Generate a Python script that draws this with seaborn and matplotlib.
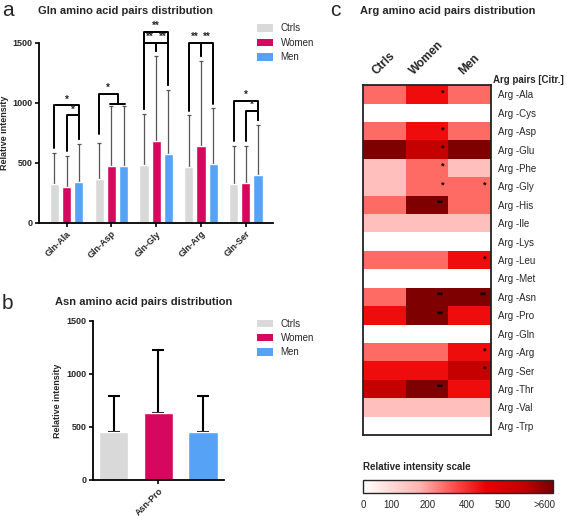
import numpy as np
import pandas as pd
import seaborn as sns
import matplotlib.pyplot as plt
from matplotlib.colors import ListedColormap, BoundaryNorm, LinearSegmentedColormap, Normalize
from matplotlib.cm import ScalarMappable
from matplotlib.patches import Patch

sns.set_theme(style="ticks")
plt.rcParams['font.family'] = ['Liberation Sans', 'DejaVu Sans']

# ---- data ----
groups = ["Ctrls", "Women", "Men"]
group_colors = ["#d9d9d9", "#d6075f", "#55a2f7"]

gln_pairs = ["Gln-Ala", "Gln-Asp", "Gln-Gly", "Gln-Arg", "Gln-Ser"]
gln_ctrls = [320, 362, 486, 468, 328]
gln_women = [300, 478, 680, 644, 333]
gln_men = [343, 478, 575, 492, 400]
gln_ctrls_sd = [265, 305, 422, 427, 311]
gln_women_sd = [257, 497, 710, 703, 311]
gln_men_sd = [316, 497, 530, 461, 414]

# (pair, bar a, bar b, height, label)
gln_sig = [(0, 0, 2, 978, "*"), (0, 1, 2, 897, "*"),
           (2, 0, 1, 1500, "**"), (2, 1, 2, 1500, "**"), (2, 0, 2, 1592, "**"),
           (3, 0, 1, 1500, "**"), (3, 1, 2, 1500, "**"),
           (4, 0, 2, 1019, "*"), (4, 1, 2, 936, "*")]

asn_pairs = ["Asn-Pro"]
asn_means = [456, 629, 450]
asn_sd = [336, 597, 342]

arg_pairs = ["Arg -Ala", "Arg -Cys", "Arg -Asp", "Arg -Glu", "Arg -Phe", "Arg -Gly",
             "Arg -His", "Arg -Ile", "Arg -Lys", "Arg -Leu", "Arg -Met", "Arg -Asn",
             "Arg -Pro", "Arg -Gln", "Arg -Arg", "Arg -Ser", "Arg -Thr", "Arg -Val",
             "Arg -Trp"]
arg_ctrls = [300, 50, 300, 650, 150, 150, 300, 150, 50, 300, 50, 300, 450, 50, 300, 450, 550, 150, 50]
arg_women = [450, 50, 450, 550, 300, 300, 650, 150, 50, 300, 50, 650, 650, 50, 300, 450, 650, 150, 50]
arg_men = [300, 50, 300, 650, 150, 300, 300, 150, 50, 450, 50, 650, 450, 50, 450, 550, 450, 150, 50]
arg_ctrls_sig = [""] * 19
arg_women_sig = ["*", "", "*", "*", "*", "*", "**", "", "", "", "", "**", "**", "", "", "", "**", "", ""]
arg_men_sig = ["", "", "", "", "", "*", "", "", "", "*", "", "**", "", "", "*", "*", "", "", ""]

level_bounds = [0, 100, 200, 400, 500, 600, 700]
level_colors = ["#ffffff", "#ffc0bd", "#fd6b64", "#ee0c0c", "#c50000", "#7f0000"]
scale_labels = ["0", "100", "200", "400", "500", ">600"]
scale_pos = [0.003, 0.152, 0.339, 0.545, 0.738, 0.956]

fig = plt.figure(figsize=(5.67, 5.16), dpi=100)


def style_bar_axes(ax):
    sns.despine(ax=ax)
    for s in ["left", "bottom"]:
        ax.spines[s].set_linewidth(1.3)
        ax.spines[s].set_color("black")
    ax.set_ylim(0, 1500)
    ax.set_yticks([0, 500, 1000, 1500])
    ax.tick_params(axis="both", labelsize=6.5, width=1.2, length=3, color="black", pad=1.5)
    for lab in ax.get_yticklabels() + ax.get_xticklabels():
        lab.set_fontweight("bold")
    ax.set_xlabel("")
    ax.set_ylabel("Relative intensity", fontsize=6.5, fontweight="bold", labelpad=3)


def add_errors(ax, sds, color, lw, capsize):
    xs = []
    for cont, sd in zip(ax.containers, sds):
        cx = [b.get_x() + b.get_width() / 2 for b in cont]
        hy = [b.get_height() for b in cont]
        ax.errorbar(cx, hy, yerr=[np.zeros(len(sd)), sd], fmt="none", ecolor=color,
                    elinewidth=lw, capsize=capsize, capthick=lw, zorder=1)
        xs.append(cx)
    return xs


# ---- panel a ----
axa = fig.add_axes([0.069, 0.568, 0.413, 0.349])
dfa = pd.DataFrame({
    "pair": gln_pairs * 3,
    "group": np.repeat(groups, len(gln_pairs)),
    "value": gln_ctrls + gln_women + gln_men,
})
sns.barplot(data=dfa, x="pair", y="value", hue="group", hue_order=groups, palette=group_colors,
            saturation=1, width=0.82, gap=0.25, errorbar=None, legend=False, ax=axa, zorder=2)
xa = add_errors(axa, [gln_ctrls_sd, gln_women_sd, gln_men_sd], "#555555", 0.9, 1.5)
tops = np.array([gln_ctrls, gln_women, gln_men]) + np.array([gln_ctrls_sd, gln_women_sd, gln_men_sd])

# significance brackets
for g, i, j, h, lab in gln_sig:
    x1, x2 = xa[i][g], xa[j][g]
    axa.plot([x1, x1, x2, x2], [tops[i][g] + 40, h, h, tops[j][g] + 40],
             color="black", lw=1.4, clip_on=False, zorder=3)
    axa.text((x1 + x2) / 2, h + 5, lab, ha="center", va="bottom", fontsize=7, fontweight="bold")
# Gln-Asp: Ctrls vs (Women + Men)
mid = (xa[1][1] + xa[2][1]) / 2
axa.plot([xa[0][1], xa[0][1], mid, mid], [tops[0][1] + 70, 1075, 1075, 992],
         color="black", lw=1.4, clip_on=False, zorder=3)
axa.plot([xa[1][1] - 0.04, xa[2][1] + 0.04], [992, 992], color="black", lw=1.4, clip_on=False, zorder=3)
axa.text((xa[0][1] + mid) / 2, 1080, "*", ha="center", va="bottom", fontsize=7, fontweight="bold")

axa.set_xticks(range(len(gln_pairs)))
axa.set_xticklabels(gln_pairs, rotation=45, ha="right", rotation_mode="anchor")
style_bar_axes(axa)

# ---- panel b ----
axb = fig.add_axes([0.164, 0.070, 0.231, 0.308])
dfb = pd.DataFrame({"pair": asn_pairs * 3, "group": groups, "value": asn_means})
sns.barplot(data=dfb, x="pair", y="value", hue="group", hue_order=groups, palette=group_colors,
            saturation=1, width=1.0, gap=0.34, errorbar=None, legend=False, ax=axb, zorder=2)
add_errors(axb, [[s] for s in asn_sd], "black", 1.5, 4)
axb.set_xticks([0])
axb.set_xticklabels(asn_pairs, rotation=45, ha="right", rotation_mode="anchor")
style_bar_axes(axb)

# legends
handles = [Patch(facecolor=c, edgecolor="none", label=l) for c, l in zip(group_colors, groups)]
for y0 in [0.962, 0.390]:
    fig.legend(handles=handles, loc="upper left", bbox_to_anchor=(0.447, y0), frameon=False,
               fontsize=7, handlelength=1.6, handleheight=0.8, labelspacing=0.45,
               handletextpad=0.8, borderaxespad=0)

# ---- panel c ----
axc = fig.add_axes([0.640, 0.157, 0.226, 0.678])
dfc = pd.DataFrame({"Ctrls": arg_ctrls, "Women": arg_women, "Men": arg_men}, index=arg_pairs)
sns.heatmap(dfc, cmap=ListedColormap(level_colors), norm=BoundaryNorm(level_bounds, len(level_colors)),
            cbar=False, linewidths=0, ax=axc)
sig = [arg_ctrls_sig, arg_women_sig, arg_men_sig]
for j in range(3):
    for i, s in enumerate(sig[j]):
        if s:
            axc.text(j + 0.9, i + 0.42, s, ha="right", va="center", fontsize=6.5,
                     fontweight="bold", color="black")
for s in axc.spines.values():
    s.set_visible(True)
    s.set_linewidth(1.3)
    s.set_color("#222222")
axc.xaxis.tick_top()
axc.set_xticklabels(dfc.columns, rotation=45, ha="center", va="bottom",
                    fontsize=8.5, fontweight="bold")
axc.yaxis.tick_right()
axc.set_yticklabels(arg_pairs, rotation=0, fontsize=7)
axc.tick_params(length=0, pad=5)
axc.tick_params(axis="x", pad=6)
axc.set_xlabel("")
axc.set_ylabel("")
fig.text(0.870, 0.845, "Arg pairs [Citr.]", fontsize=7, fontweight="bold", ha="left", va="center")

# colour scale
cax = fig.add_axes([0.640, 0.045, 0.335, 0.025])
grad = LinearSegmentedColormap.from_list("grad", [(0, "#ffffff"), (0.3, "#ffb3b0"),
                                                  (0.5, "#f84545"), (0.65, "#e80000"),
                                                  (0.85, "#c00000"), (1, "#780000")])
cb = fig.colorbar(ScalarMappable(norm=Normalize(0, 1), cmap=grad), cax=cax, orientation="horizontal")
cb.outline.set_linewidth(1.0)
cb.set_ticks(scale_pos)
cb.set_ticklabels(scale_labels)
cax.tick_params(length=0, labelsize=7, pad=5)
fig.text(0.640, 0.094, "Relative intensity scale", fontsize=7, fontweight="bold", ha="left", va="center")

# titles and panel letters
fig.text(0.067, 0.978, "Gln amino acid pairs distribution", fontsize=8, fontweight="bold", va="center")
fig.text(0.097, 0.415, "Asn amino acid pairs distribution", fontsize=8, fontweight="bold", va="center")
fig.text(0.635, 0.978, "Arg amino acid pairs distribution", fontsize=8, fontweight="bold", va="center")
fig.text(0.003, 0.980, "a", fontsize=15, va="center")
fig.text(0.003, 0.412, "b", fontsize=15, va="center")
fig.text(0.582, 0.980, "c", fontsize=15, va="center")

fig.savefig("out.png", dpi=100)
